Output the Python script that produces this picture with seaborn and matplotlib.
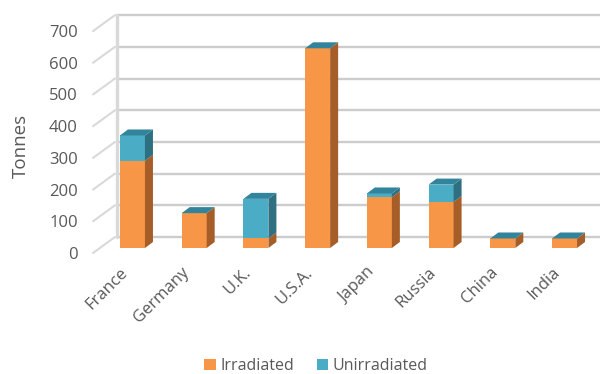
import matplotlib
matplotlib.use("Agg")
import matplotlib.pyplot as plt
import seaborn as sns
import pandas as pd
from matplotlib.patches import Polygon, Patch
from matplotlib.lines import Line2D
from matplotlib.transforms import IdentityTransform, ScaledTranslation

# Spent fuel stocks by country (tonnes)
countries = ["France", "Germany", "U.K.", "U.S.A.", "Japan", "Russia", "China", "India"]
irradiated = [275, 110, 30, 630, 160, 145, 30, 30]
unirradiated = [80, 0, 125, 0, 12, 55, 0, 0]
y_ticks = [0, 100, 200, 300, 400, 500, 600, 700]

df = pd.DataFrame({
    "country": countries,
    "Irradiated": irradiated,
    "Unirradiated": unirradiated,
})
df["total"] = df["Irradiated"] + df["Unirradiated"]

sns.set_theme(style="white")
plt.rcParams["font.family"] = ["Open Sans", "DejaVu Sans"]

TEXT = "#595959"
ORANGE, ORANGE_SIDE = "#F79646", "#A65D27"
BLUE, BLUE_SIDE, BLUE_TOP = "#4BACC6", "#2E6F82", "#31849B"
GRID = "#CCCCCC"

W, H = 600, 374
fig = plt.figure(figsize=(W / 100, H / 100), dpi=100)
# plot area in pixels: value 0 on the bar plane at y=248, 700 at y=26
left_px, right_px, base_px, top_px = 101.6, 595.4, 248.0, 26.1
ax = fig.add_axes([left_px / W, (H - base_px) / H,
                   (right_px - left_px) / W, (base_px - top_px) / H])
ax.patch.set_visible(False)

bar_w = 0.405
sns.barplot(data=df, x="country", y="total", color=BLUE, width=bar_w,
            errorbar=None, saturation=1, ax=ax, linewidth=0)
sns.barplot(data=df, x="country", y="Irradiated", color=ORANGE, width=bar_w,
            errorbar=None, saturation=1, ax=ax, linewidth=0)
ax.set_xlim(-0.5, len(countries) - 0.5)
ax.set_ylim(0, 700)
for s in ax.spines.values():
    s.set_visible(False)
ax.set_xlabel("")
ax.set_ylabel("")

# y tick labels sit on the front plane, a few pixels below the bar plane
ax.set_yticks(y_ticks)
ax.set_yticklabels([str(v) for v in y_ticks])
ax.tick_params(axis="y", length=0, pad=17, labelsize=12, labelcolor=TEXT)
shift_y = ScaledTranslation(0, -5 / 100, fig.dpi_scale_trans)
for lab in ax.get_yticklabels():
    lab.set_transform(lab.get_transform() + shift_y)

ax.set_xticks(range(len(countries)))
ax.set_xticklabels(countries, rotation=45, ha="right", va="center",
                   rotation_mode="anchor")
ax.tick_params(axis="x", length=0, pad=16, labelsize=12, labelcolor=TEXT)
shift_x = ScaledTranslation(-7 / 100, 0, fig.dpi_scale_trans)
for lab in ax.get_xticklabels():
    lab.set_transform(lab.get_transform() + shift_x)

ident = IdentityTransform()
to_disp = ax.transData.transform

# back wall: gridlines, left edge and the diagonal tick connectors
wall_dx, wall_dy = 15.4, 11.0
wall_x = left_px + wall_dx
for v in y_ticks:
    yb = to_disp((0, v))[1] + wall_dy
    fig.add_artist(Line2D([wall_x, W + 5], [yb, yb], transform=ident,
                          color=GRID, lw=1.7, zorder=-2))
    yf = to_disp((0, v))[1] - 5
    fig.add_artist(Line2D([93, wall_x - 2], [yf, yb], transform=ident,
                          color="#D9D9D9", lw=1.5, zorder=-2,
                          solid_capstyle="round"))
y0w = to_disp((0, 0))[1] + wall_dy
y7w = to_disp((0, 700))[1] + wall_dy
fig.add_artist(Line2D([wall_x, wall_x], [y0w, y7w], transform=ident,
                      color="#D9D9D9", lw=2.4, zorder=-2))

# depth faces of the columns
dx, dy = 8.0, 6.0
for i, row in df.iterrows():
    x0, yb = to_disp((i - bar_w / 2, 0))
    x1, ym = to_disp((i + bar_w / 2, row["Irradiated"]))
    _, yt = to_disp((i, row["total"]))
    faces = [
        ([(x1, yb), (x1 + dx, yb + dy), (x1 + dx, ym + dy), (x1, ym)], ORANGE_SIDE),
        ([(x1, ym), (x1 + dx, ym + dy), (x1 + dx, yt + dy), (x1, yt)], BLUE_SIDE),
        ([(x0, yt), (x1, yt), (x1 + dx, yt + dy), (x0 + dx, yt + dy)], BLUE_TOP),
    ]
    for pts, col in faces:
        fig.add_artist(Polygon(pts, closed=True, transform=ident,
                               facecolor=col, edgecolor="none", zorder=1))

fig.text(21 / W, 1 - 146 / H, "Tonnes", rotation=90, ha="center", va="center",
         fontsize=13.5, color=TEXT)

handles = [Patch(facecolor=ORANGE, edgecolor="none", label="Irradiated"),
           Patch(facecolor=BLUE, edgecolor="none", label="Unirradiated")]
fig.legend(handles=handles, loc="center", bbox_to_anchor=(316 / W, 1 - 366 / H),
           ncol=2, frameon=False, fontsize=11.5, labelcolor=TEXT,
           handlelength=0.7, handleheight=0.7, handletextpad=0.3,
           columnspacing=1.4, borderpad=0, borderaxespad=0)

fig.savefig("out.png", dpi=100)
